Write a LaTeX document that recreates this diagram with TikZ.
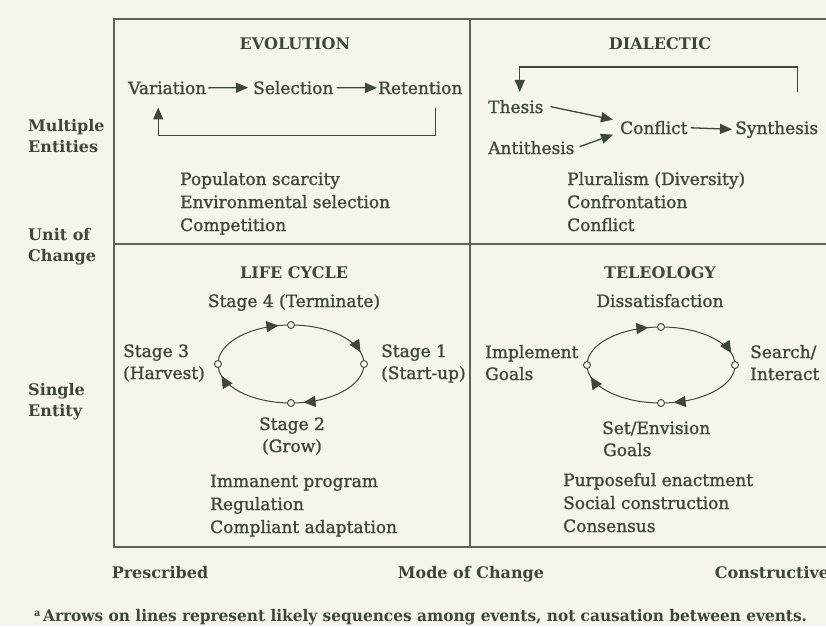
\documentclass[tikz,border=0pt]{standalone}
\usepackage{fontspec}
\setmainfont{DejaVu Serif}
\newfontfamily\bodyfont[FakeBold=1.2]{DejaVu Serif}
\newfontfamily\notefont[FakeStretch=0.96]{DejaVu Serif}
\usetikzlibrary{arrows.meta,decorations.markings}
\definecolor{paper}{HTML}{F4F5EC}
\definecolor{ink}{HTML}{3F473A}
\definecolor{rulecol}{HTML}{5E635A}
\begin{document}
\begin{tikzpicture}[x=1pt,y=-1pt,
  every node/.style={inner sep=0pt, text=ink, font=\bodyfont\fontsize{17}{23}\selectfont},
  lbl/.style={anchor=base west, align=left},
  pair/.style={anchor=base west, align=left, font=\bodyfont\fontsize{17}{22}\selectfont},
  ctr/.style={anchor=base, align=center, font=\bodyfont\fontsize{17}{22}\selectfont},
  heading/.style={anchor=base, font=\fontsize{16}{23}\selectfont\bfseries},
  axislbl/.style={anchor=base west, align=left, font=\fontsize{16}{21}\selectfont\bfseries},
  flow/.style={draw=ink, line width=1.3pt, -{Triangle[length=12pt,width=10pt]}},
  frame/.style={draw=rulecol, line width=2.6pt},
  cyc/.style={draw=ink, line width=1pt, postaction={decorate},
    decoration={markings,
      mark=at position 0.215 with {\arrow{Triangle[length=12pt,width=11pt]}},
      mark=at position 0.465 with {\arrow{Triangle[length=12pt,width=11pt]}},
      mark=at position 0.715 with {\arrow{Triangle[length=12pt,width=11pt]}},
      mark=at position 0.965 with {\arrow{Triangle[length=12pt,width=11pt]}}}},
  dot/.style={circle, draw=ink, fill=paper, line width=0.9pt, minimum size=7pt}
]
\useasboundingbox (0,0) rectangle (826,626);
\fill[paper] (0,0) rectangle (826,626);

% frame of the two-by-two grid
\draw[frame] (830,19) -- (114,19) -- (114,547) -- (830,547);
\draw[frame] (470,19) -- (470,547);
\draw[frame] (114,244) -- (830,244);

% axis labels (base anchor = baseline of the last line)
\node[axislbl] (multi) at (28,152) {Multiple\\Entities};
\node[axislbl] (unit)  at (28,261) {Unit of\\Change};
\node[axislbl] (single) at (28,416) {Single\\Entity};
\node[heading] (presc) at (160,578) {Prescribed};
\node[heading] (mode) at (471,578) {Mode of Change};
\node[heading] (constr) at (772,578) {Constructive};
\node[anchor=base west, font=\fontsize{16}{18}\selectfont\notefont\bfseries] (note) at (34,621)
  {\raisebox{5pt}{\fontsize{10}{10}\selectfont a}\,Arrows on lines represent likely sequences among events, not causation between events.};

% ---------- Evolution ----------
\node[heading] (evo) at (295,49) {EVOLUTION};
\node[lbl] (var) at (128,94) {Variation};
\node[lbl] (sel) at (253,94) {Selection};
\node[lbl] (ret) at (378,94) {Retention};
\draw[flow, shorten <=2pt, shorten >=5pt] (var.east) -- (sel.west);
\draw[flow, shorten <=3pt, shorten >=1pt] (sel.east) -- (ret.west);
\draw[flow] ([xshift=15pt,yshift=-14pt]ret.south) -- ++(0,27) -| ([xshift=-9pt,yshift=-13pt]var.south);
\node[lbl] (evolist) at (180,231) {Populaton scarcity\\Environmental selection\\Competition};

% ---------- Dialectic ----------
\node[heading] (dia) at (660,49) {DIALECTIC};
\node[lbl] (thesis) at (488,113) {Thesis};
\node[lbl] (anti) at (488,154) {Antithesis};
\node[lbl] (confl) at (620,134) {Conflict};
\node[lbl] (synth) at (735,134) {Synthesis};
\draw[flow] ([xshift=7pt]thesis.east) -- ([xshift=-7pt,yshift=8pt]confl.west);
\draw[flow] ([xshift=5pt,yshift=1pt]anti.east) -- ([xshift=-7pt,yshift=-7pt]confl.west);
\draw[flow, shorten <=3pt, shorten >=3pt] (confl.east) -- (synth.west);
\draw[flow] ([xshift=21pt,yshift=29pt]synth.north) -- ++(0,-25) -| ([xshift=4pt,yshift=8pt]thesis.north);
\node[lbl] (dialist) at (567,231) {Pluralism (Diversity)\\Confrontation\\Conflict};

% ---------- Life cycle ----------
\node[heading] (life) at (294,278) {LIFE CYCLE};
\node[ctr] (st4) at (294,307) {Stage 4 (Terminate)};
\node[pair] (st3) at (123,379) {Stage 3\\(Harvest)};
\node[pair] (st1) at (381,379) {Stage 1\\(Start-up)};
\node[ctr] (st2) at (292,452) {Stage 2\\(Grow)};
\coordinate (lc) at (291,364);
\draw[cyc] (lc) ellipse [x radius=73, y radius=39];
\node[dot] (lcr) at (364,364) {};
\node[dot] (lcb) at (291,403) {};
\node[dot] (lcl) at (218,364) {};
\node[dot] (lct) at (291,325) {};
\node[lbl] (lifelist) at (210,533) {Immanent program\\Regulation\\Compliant adaptation};

% ---------- Teleology ----------
\node[heading] (tel) at (660,278) {TELEOLOGY};
\node[ctr] (diss) at (660,307) {Dissatisfaction};
\node[pair] (impl) at (485,380) {Implement\\Goals};
\node[pair] (search) at (750,380) {Search/\\Interact};
\node[pair] (setg) at (602,456) {Set/Envision\\\hspace*{1pt}Goals};
\coordinate (tc) at (661,365);
\draw[cyc] (tc) ellipse [x radius=74, y radius=38];
\node[dot] (tcr) at (735,365) {};
\node[dot] (tcb) at (661,403) {};
\node[dot] (tcl) at (587,365) {};
\node[dot] (tct) at (661,327) {};
\node[lbl] (tellist) at (563,532) {Purposeful enactment\\Social construction\\Consensus};
\end{tikzpicture}
\end{document}
